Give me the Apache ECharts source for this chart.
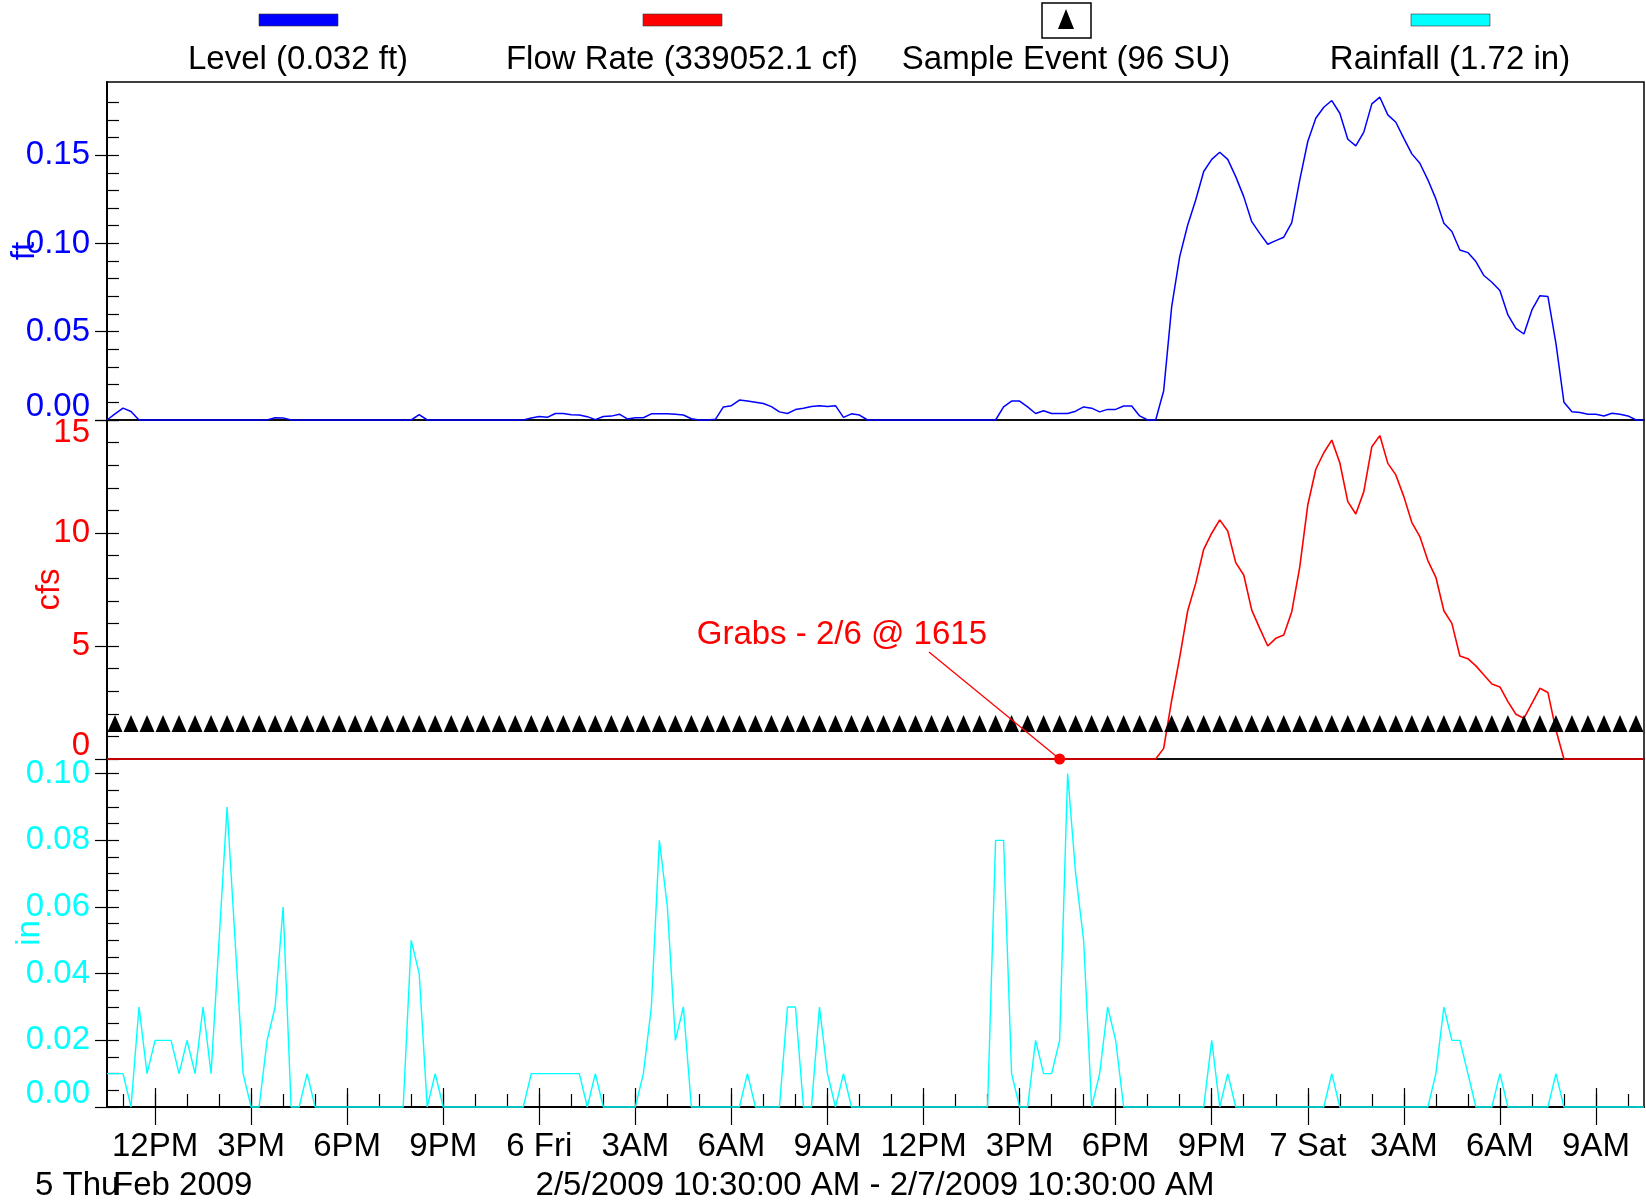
<!DOCTYPE html>
<html>
<head>
<meta charset="utf-8">
<script src="https://cdn.jsdelivr.net/npm/echarts@6/dist/echarts.min.js"></script>
<style>html,body{margin:0;padding:0;background:#fff;}#chart{width:1646px;height:1204px;}</style>
</head>
<body>
<div id="chart"></div>
<script>
// ---------- DATA ----------
// Readings every 15 minutes from 2/5/2009 10:30 AM to 2/7/2009 10:30 AM (193 readings)
const startHour = 10.5;      // hours since 2/5/2009 00:00
const stepHours = 0.25;      // 15 minute logging interval

const levelFt = [
 0,0.0035,0.0067,0.0048,0,0,0,0,0,0,
 0,0,0,0,0,0,0,0,0,0,
 0,0.0013,0.0012,0,0,0,0,0,0,0,
 0,0,0,0,0,0,0,0,0,0.003,
 0,0,0,0,0,0,0,0,0,0,
 0,0,0,0.0011,0.002,0.0015,0.0037,0.0037,0.003,0.0028,
 0.0019,0.0002,0.002,0.0022,0.0033,0.0006,0.0013,0.0013,0.0035,0.0035,
 0.0035,0.0033,0.0028,0.0007,0,0,0.0004,0.0074,0.0081,0.0113,
 0.0107,0.01,0.0093,0.0076,0.0046,0.0037,0.0059,0.0067,0.0076,0.0081,
 0.0076,0.0081,0.0015,0.0035,0.0028,0,0,0,0,0,
 0,0,0,0,0,0,0,0,0,0,
 0,0,0.0074,0.0107,0.0107,0.0074,0.0037,0.0052,0.0037,0.0037,
 0.0037,0.005,0.0074,0.0067,0.0046,0.006,0.006,0.0079,0.0079,0.0023,
 0,0,0.0166,0.0642,0.0925,0.1104,0.1246,0.1407,0.1476,0.1516,
 0.1476,0.1378,0.1265,0.1123,0.1057,0.0995,0.1016,0.1035,0.1118,0.136,
 0.1577,0.1709,0.1771,0.1809,0.1737,0.159,0.1552,0.163,0.179,0.1828,
 0.1728,0.1686,0.1595,0.1507,0.1454,0.136,0.1252,0.1114,0.1067,0.0963,
 0.0948,0.0897,0.0818,0.078,0.0733,0.0595,0.0519,0.0487,0.0623,0.0704,
 0.0699,0.0434,0.01,0.0047,0.0042,0.0032,0.0032,0.0023,0.0038,0.0032,
 0.0023,0,0
];

const flowCfs = [
 0,0,0,0,0,0,0,0,0,0, 0,0,0,0,0,0,0,0,0,0,
 0,0,0,0,0,0,0,0,0,0, 0,0,0,0,0,0,0,0,0,0,
 0,0,0,0,0,0,0,0,0,0, 0,0,0,0,0,0,0,0,0,0,
 0,0,0,0,0,0,0,0,0,0, 0,0,0,0,0,0,0,0,0,0,
 0,0,0,0,0,0,0,0,0,0, 0,0,0,0,0,0,0,0,0,0,
 0,0,0,0,0,0,0,0,0,0, 0,0,0,0,0,0,0,0,0,0,
 0,0,0,0,0,0,0,0,0,0, 0,0,
 0.47,2.6,4.5,6.56,7.77,9.28,9.99,10.58,
 10.09,8.69,8.14,6.59,5.78,5.0,5.34,5.49,6.52,8.5,
 11.24,12.82,13.55,14.11,13.11,11.39,10.84,11.83,13.82,14.31,
 13.08,12.57,11.61,10.46,9.84,8.78,8.04,6.56,6.0,4.56,
 4.44,4.12,3.72,3.32,3.19,2.54,1.98,1.8,2.46,3.13,
 2.94,1.28,0,0,0,0,0,0,0,0,
 0,0,0
];

const rainIn = [
 0.01,0.01,0.01,0,0.03,0.01,0.02,0.02,0.02,0.01,
 0.02,0.01,0.03,0.01,0.05,0.09,0.05,0.01,0,0,
 0.02,0.03,0.06,0,0,0.01,0,0,0,0,
 0,0,0,0,0,0,0,0,0.05,0.04,
 0,0.01,0,0,0,0,0,0,0,0,
 0,0,0,0.01,0.01,0.01,0.01,0.01,0.01,0.01,
 0,0.01,0,0,0,0,0,0.01,0.03,0.08,
 0.06,0.02,0.03,0,0,0,0,0,0,0,
 0.01,0,0,0,0,0.03,0.03,0,0,0.03,
 0.01,0,0.01,0,0,0,0,0,0,0,
 0,0,0,0,0,0,0,0,0,0,
 0,0.08,0.08,0.01,0,0,0.02,0.01,0.01,0.02,
 0.1,0.07,0.05,0,0.01,0.03,0.02,0,0,0,
 0,0,0,0,0,0,0,0,0.02,0,
 0.01,0,0,0,0,0,0,0,0,0,
 0,0,0,0.01,0,0,0,0,0,0,
 0,0,0,0,0,0,0.01,0.03,0.02,0.02,
 0.01,0,0,0,0.01,0,0,0,0,0,
 0,0.01,0,0,0,0,0,0,0,0,
 0,0,0
];

// Sample events (hours since 2/5/2009 00:00), one every 30 minutes: 96 SU
const sampleHours = [
 10.75,11.25,11.75,12.25,12.75,13.25,13.75,14.25,14.75,15.25,15.75,16.25,16.75,17.25,17.75,18.25,
 18.75,19.25,19.75,20.25,20.75,21.25,21.75,22.25,22.75,23.25,23.75,24.25,24.75,25.25,25.75,26.25,
 26.75,27.25,27.75,28.25,28.75,29.25,29.75,30.25,30.75,31.25,31.75,32.25,32.75,33.25,33.75,34.25,
 34.75,35.25,35.75,36.25,36.75,37.25,37.75,38.25,38.75,39.25,39.75,40.25,40.75,41.25,41.75,42.25,
 42.75,43.25,43.75,44.25,44.75,45.25,45.75,46.25,46.75,47.25,47.75,48.25,48.75,49.25,49.75,50.25,
 50.75,51.25,51.75,52.25,52.75,53.25,53.75,54.25,54.75,55.25,55.75,56.25,56.75,57.25,57.75,58.25
];

// Grab sample: 2/6 @ 16:15
const grabEvent = [40.25, 0];
const grabText = 'Grabs - 2/6 @ 1615';

// Axis ticks / labels
const xMin = 10.5, xMax = 58.5;
const majorHours = [12,15,18,21,24,27,30,33,36,39,42,45,48,51,54,57];
const majorLabels = ['12PM','3PM','6PM','9PM','6 Fri','3AM','6AM','9AM','12PM','3PM','6PM','9PM','7 Sat','3AM','6AM','9AM'];
const hourTicks = [11,12,13,14,15,16,17,18,19,20,21,22,23,24,25,26,27,28,29,30,31,32,33,34,
 35,36,37,38,39,40,41,42,43,44,45,46,47,48,49,50,51,52,53,54,55,56,57,58];

const levelMajor = [0,0.05,0.10,0.15];
const levelMinor = [0,0.01,0.02,0.03,0.04,0.05,0.06,0.07,0.08,0.09,0.10,0.11,0.12,0.13,0.14,0.15,0.16,0.17,0.18];
const flowMajor = [0,5,10,15];
const flowMinor = [0,1,2,3,4,5,6,7,8,9,10,11,12,13,14,15];
const rainMajor = [0,0.02,0.04,0.06,0.08,0.10];
const rainMinor = [0,0.005,0.01,0.015,0.02,0.025,0.03,0.035,0.04,0.045,0.05,0.055,0.06,0.065,0.07,0.075,0.08,0.085,0.09,0.095,0.10];

const legendNames = ['Level (0.032 ft)','Flow Rate (339052.1 cf)','Sample Event (96 SU)','Rainfall (1.72 in)'];
const dateLeft1 = '5 Thu', dateLeft2 = 'Feb 2009';
const rangeText = '2/5/2009 10:30:00 AM - 2/7/2009 10:30:00 AM';

// ---------- CHART ----------
const FONT = '"Liberation Sans", Arial, Helvetica, sans-serif';
const FS = 33;
const BLUE = '#0000FF', RED = '#FF0000', CYAN = '#00FFFF';

const toPairs = arr => arr.map((v, i) => [startHour + i * stepHours, v]);

function mainY(grid, min, max, major, color, name, nameGap, fmt) {
  return {
    type: 'value', gridIndex: grid, position: 'left', min: min, max: max,
    axisLine: { show: true, lineStyle: { color: '#000', width: 2 } },
    axisTick: { show: true, inside: false, length: 12, customValues: major, lineStyle: { color: '#000', width: 1.2 } },
    axisLabel: { show: true, customValues: major, formatter: fmt, color: color, fontSize: FS, fontFamily: FONT, margin: 17, lineHeight: 26 },
    splitLine: { show: false },
    name: name, nameLocation: 'middle', nameRotate: 90, nameGap: nameGap, nameMoveOverlap: false,
    nameTextStyle: { color: color, fontSize: FS, fontFamily: FONT }
  };
}
function innerY(grid, min, max, minor) {
  return {
    type: 'value', gridIndex: grid, position: 'left', min: min, max: max,
    axisLine: { show: false },
    axisTick: { show: true, inside: true, length: 12, customValues: minor, lineStyle: { color: '#000', width: 1.2 } },
    axisLabel: { show: false }, splitLine: { show: false }
  };
}
function hiddenX(grid) {
  return { type: 'value', gridIndex: grid, min: xMin, max: xMax, show: false, splitLine: { show: false } };
}
function gridBox(top, height) {
  return { left: 107, right: 2, top: top, height: height, containLabel: false, outerBoundsMode: 'none',
    show: true, borderColor: '#000', borderWidth: 1.5, backgroundColor: 'transparent' };
}

const chart = echarts.init(document.getElementById('chart'), null, { renderer: 'canvas' });

const option = {
  backgroundColor: '#fff',
  animation: false,
  textStyle: { fontFamily: FONT },
  grid: [ gridBox(82, 338), gridBox(420, 339), gridBox(759, 348) ],
  xAxis: [
    hiddenX(0),
    hiddenX(1),
    { type: 'value', gridIndex: 2, position: 'bottom', min: xMin, max: xMax,
      axisLine: { show: true, lineStyle: { color: '#000', width: 2 } },
      axisTick: { show: true, inside: false, length: 18, customValues: majorHours, lineStyle: { color: '#000', width: 1.2 } },
      axisLabel: { show: true, customValues: majorHours, color: '#000', fontSize: FS, fontFamily: FONT, margin: 23,
        formatter: v => { const k = majorHours.indexOf(Math.round(v)); return k >= 0 ? majorLabels[k] : ''; } },
      splitLine: { show: false } },
    { type: 'value', gridIndex: 2, position: 'bottom', min: xMin, max: xMax,
      axisLine: { show: false },
      axisTick: { show: true, inside: true, length: 19, customValues: majorHours, lineStyle: { color: '#000', width: 1.2 } },
      axisLabel: { show: false }, splitLine: { show: false } },
    { type: 'value', gridIndex: 2, position: 'bottom', min: xMin, max: xMax,
      axisLine: { show: false },
      axisTick: { show: true, inside: true, length: 13, customValues: hourTicks, lineStyle: { color: '#000', width: 1.2 } },
      axisLabel: { show: false }, splitLine: { show: false } }
  ],
  yAxis: [
    mainY(0, 0, 0.1914, levelMajor, BLUE, 'ft', 66, v => v === 0 ? '0.00\n' : v.toFixed(2)),
    innerY(0, 0, 0.1914, levelMinor),
    mainY(1, 0, 15, flowMajor, RED, 'cfs', 41, v => v === 0 ? '0\n' : (v === 15 ? '\n15' : String(v))),
    innerY(1, 0, 15, flowMinor),
    mainY(2, 0, 0.1044, rainMajor, CYAN, 'in', 61, v => v === 0 ? '0.00\n' : v.toFixed(2)),
    innerY(2, 0, 0.1044, rainMinor)
  ],
  series: [
    { name: legendNames[0], type: 'line', xAxisIndex: 0, yAxisIndex: 0, data: toPairs(levelFt),
      showSymbol: false, symbol: 'none', clip: false, lineStyle: { color: BLUE, width: 1.5 }, z: 3 },
    { name: legendNames[1], type: 'line', xAxisIndex: 1, yAxisIndex: 2, data: toPairs(flowCfs),
      showSymbol: false, symbol: 'none', clip: false, lineStyle: { color: RED, width: 1.6 }, z: 3 },
    { name: legendNames[2], type: 'scatter', xAxisIndex: 1, yAxisIndex: 2,
      data: sampleHours.map(h => [h, 1.57]), symbol: 'triangle', symbolSize: [15, 17],
      itemStyle: { color: '#000', opacity: 1 }, z: 4 },
    { name: 'Grab', type: 'scatter', xAxisIndex: 1, yAxisIndex: 2, data: [grabEvent],
      symbol: 'circle', symbolSize: 11, itemStyle: { color: RED, opacity: 1 }, clip: false, z: 6 },
    { name: legendNames[3], type: 'line', xAxisIndex: 2, yAxisIndex: 4, data: toPairs(rainIn),
      showSymbol: false, symbol: 'none', clip: false, lineStyle: { color: CYAN, width: 1.4 }, z: 3 }
  ]
};
chart.setOption(option);

// ---------- legend, date captions, annotation ----------
const legendCenters = [298, 682, 1066, 1450];
const legendColors = [BLUE, RED, null, CYAN];
const g = [];
legendNames.forEach((nm, k) => {
  const cx = legendCenters[k];
  if (legendColors[k]) {
    g.push({ type: 'rect', shape: { x: cx - 39, y: 14, width: 79, height: 12 },
      style: { fill: legendColors[k], stroke: '#333', lineWidth: 0.6 }, z: 10 });
  } else {
    g.push({ type: 'rect', shape: { x: cx - 24, y: 3, width: 49, height: 35 },
      style: { fill: '#fff', stroke: '#000', lineWidth: 1.5 }, z: 10 });
    g.push({ type: 'polygon', shape: { points: [[cx, 9], [cx - 8, 29], [cx + 8, 29]] },
      style: { fill: '#000' }, z: 11 });
  }
  g.push({ type: 'text', x: cx, y: 60, style: { text: nm, fill: '#000', font: FS + 'px ' + FONT, align: 'center', verticalAlign: 'middle' }, z: 10 });
});
g.push({ type: 'text', x: 35, y: 1186, style: { text: dateLeft1, fill: '#000', font: FS + 'px ' + FONT, align: 'left', verticalAlign: 'middle' } });
g.push({ type: 'text', x: 113, y: 1186, style: { text: dateLeft2, fill: '#000', font: FS + 'px ' + FONT, align: 'left', verticalAlign: 'middle' } });
g.push({ type: 'text', x: 875, y: 1186, style: { text: rangeText, fill: '#000', font: FS + 'px ' + FONT, align: 'center', verticalAlign: 'middle' } });

// Annotation placed in data coordinates of the flow panel
const dot = chart.convertToPixel({ xAxisIndex: 1, yAxisIndex: 2 }, grabEvent);
const textAt = chart.convertToPixel({ xAxisIndex: 1, yAxisIndex: 2 }, [33.45, 5.5]);
const lineFrom = chart.convertToPixel({ xAxisIndex: 1, yAxisIndex: 2 }, [36.17, 4.73]);
g.push({ type: 'text', x: textAt[0], y: textAt[1], style: { text: grabText, fill: RED, font: FS + 'px ' + FONT, align: 'center', verticalAlign: 'middle' }, z: 20 });
g.push({ type: 'line', shape: { x1: lineFrom[0], y1: lineFrom[1], x2: dot[0], y2: dot[1] }, style: { stroke: RED, lineWidth: 1.3 }, z: 20 });

chart.setOption({ graphic: { elements: g } });
</script>
</body>
</html>
